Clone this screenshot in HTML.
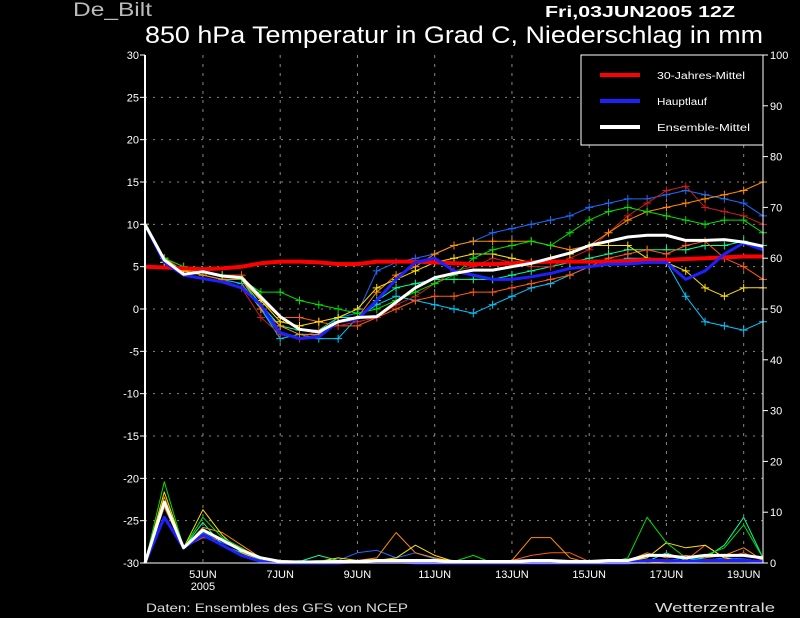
<!DOCTYPE html>
<html><head><meta charset="utf-8"><style>
html,body{margin:0;padding:0;background:#000;width:800px;height:618px;overflow:hidden}
svg{display:block}
text{font-family:"Liberation Sans",sans-serif}
</style></head><body>
<svg id="chart" width="800" height="618" xmlns="http://www.w3.org/2000/svg">
<rect x="0" y="0" width="800" height="618" fill="#000"/>
<text x="73" y="16" fill="#bbb" font-size="19" textLength="79" lengthAdjust="spacingAndGlyphs">De_Bilt</text>
<text x="545" y="17" fill="#fff" font-size="16" font-weight="bold" textLength="190" lengthAdjust="spacingAndGlyphs">Fri,03JUN2005  12Z</text>
<text x="145" y="43" fill="#fff" font-size="24" textLength="618" lengthAdjust="spacingAndGlyphs">850 hPa Temperatur in Grad C, Niederschlag in mm</text>
<text x="146" y="612" fill="#ddd" font-size="12" textLength="262" lengthAdjust="spacingAndGlyphs">Daten: Ensembles des GFS von NCEP</text>
<text x="655" y="612" fill="#ddd" font-size="13" textLength="120" lengthAdjust="spacingAndGlyphs">Wetterzentrale</text>
<g id="grid"></g><g id="precip"></g><g id="temp"></g><g id="axes"></g>
<g>
<rect x="581" y="55" width="182" height="90" fill="#000" stroke="#fff" stroke-width="1"/>
<line x1="600" y1="75" x2="640" y2="75" stroke="#f00" stroke-width="4"/>
<text x="657" y="79" fill="#fff" font-size="10" textLength="88" lengthAdjust="spacingAndGlyphs">30-Jahres-Mittel</text>
<line x1="600" y1="101" x2="640" y2="101" stroke="#2020ff" stroke-width="4"/>
<text x="657" y="105" fill="#fff" font-size="10" textLength="50" lengthAdjust="spacingAndGlyphs">Hauptlauf</text>
<line x1="600" y1="127" x2="640" y2="127" stroke="#fff" stroke-width="4"/>
<text x="657" y="131" fill="#fff" font-size="10" textLength="93" lengthAdjust="spacingAndGlyphs">Ensemble-Mittel</text>
</g>
</svg>
<script>
const dateLabels=["5JUN","7JUN","9JUN","11JUN","13JUN","15JUN","17JUN","19JUN"];
const leftTicks=[30,25,20,15,10,5,0,-5,-10,-15,-20,-25,-30];
const rightTicks=[100,90,80,70,60,50,40,30,20,10,0];
const climate=[5,4.9,4.8,4.7,4.8,5.0,5.4,5.6,5.6,5.5,5.3,5.3,5.6,5.6,5.6,5.5,5.4,5.3,5.3,5.4,5.5,5.6,5.6,5.6,5.6,5.7,5.8,5.8,5.9,6.0,6.1,6.2,6.2];
const ensMean=[10,5.8,4.1,4.4,3.9,3.7,1.4,-0.9,-2.4,-2.7,-1.5,-1.0,-0.9,0.8,2.5,3.7,4.2,4.6,4.6,5.0,5.4,6.0,6.6,7.5,8.0,8.5,8.7,8.7,8.1,8.1,8.2,7.9,7.4];
const mainRun=[10,5.5,4.0,3.6,3.2,2.5,0.5,-2.8,-3.5,-3.3,-1.5,-1.2,1.0,3.5,5.5,6.0,4.5,4.0,3.5,3.5,3.8,4.2,4.8,5.0,5.3,5.3,5.5,5.5,3.5,4.5,6.5,7.8,7.0];
const memBlue=[10,6,4.5,4,3.5,3,0,-3,-3.5,-3,-1,-0.5,4.5,5.5,6,6.5,7.5,8,9,9.5,10,10.5,11,12,12.5,13,13,13.5,14,13.5,13,12.5,11];
const memGreen=[10,6,5,4.5,4,3.5,2,2,1,0.5,0,-0.5,0,1,2,3,4,6,7,7.5,8,7.5,9,10.5,11.5,12,11.5,11,10.5,10,10.5,10.5,9];
const memCyan=[10,5.5,4.5,4,3.5,3,0,-3.5,-3,-3.5,-3.5,-1,0.5,1.5,1,0.5,0,-0.5,0.5,1.5,2.5,3,4,5,5.5,6,6,5.5,1.5,-1.5,-2,-2.5,-1.5];
const memOrange=[10,6,4.5,4,3.5,3.5,0,-2,-3,-3,-1.5,-1,2,4,5,6.5,7.5,8,8,8,8,7.5,7,7.5,9,10.5,11.5,12,12.5,13,13.5,14,15];
const memYellow=[10,5.5,4.5,4.5,4,3.5,1,-1.5,-2,-1.5,-1,0,2.5,3.5,4.5,5.5,6,6.5,6.5,6,5.5,6,6.5,7.5,7.5,7.5,6,5.5,4.5,2.5,1.5,2.5,2.5];
const memRed=[10,5.5,4.5,4,3.5,2.5,-1,-3,-3.5,-2.5,-2,-1.5,-1,0.5,1.5,3,4.5,5,6,5.5,5,5,6,7,9,11,12.5,14,14.5,12,11.5,11,10];
const memOrRed=[10,6,5,4.5,4,4,1,-1,-1,-1.5,-2,-2,-1,0,1,1.5,1.5,2,2,2.5,3,3.5,4,5,6,6.5,7,6.5,7.5,8,6,5,3.5];
const memTeal=[10,5.5,4.5,4,3.5,3.5,0.5,-2,-2.5,-2.5,-1,-1,1,2.5,3,3.5,3.5,3.5,3.5,4,4.5,5,5.5,6,6.5,7,7,7,7,7.5,7.5,8,7.5];
const prMean=[0,12,3,6.5,4.5,2.5,1,0.3,0.2,0.2,0.3,0.3,0.5,0.5,0.5,0.5,0.3,0.3,0.3,0.3,0.5,0.5,0.3,0.3,0.5,0.5,1.5,1.5,1,1.5,1.5,1.5,1];
const prMain=[0,9,3,5.5,3.5,1.5,0.3,0,0,0,0,0.3,0.3,0.3,0,0,0,0,0,0,0,0,0,0,0,0,0.5,0.5,0.3,0.5,0.5,0.5,0.3];
const prGreen=[0,16,3,9,5,3,0.5,0,0,0.5,0.3,0.3,0.3,0.3,0.5,0.5,0.3,1.5,0,0.3,0.5,0.5,0,0,0,1,9,4,1,1.5,3,7.5,1];
const prOrange=[0,13,3,7,6,3.5,1,0.5,0.3,0.5,0.5,0.5,1,6,2,1,0.3,0.3,0,0.5,5,5,1,0,0,0.5,2,1,1.5,1,1.5,3,0.5];
const prYellow=[0,14,3,10.5,5.5,2,0.5,0,0,0.3,1,0.5,0.5,1,3.5,1.5,0.3,0,0,0,0,0,0,0,0,0.3,1,4,3,3.5,1,0.3,0.3];
const prBlue=[0,12,3,6,4,2.5,0.5,0,0.5,0.3,0.5,2,2.5,1,2,0.8,0.3,0,0,0,0,0,0,0,0,0,0.3,0.5,1,0.5,1,0.8,0.3];
const prRed=[0,11,3,5,4.5,3,0.8,0.3,0.3,0.3,0.5,0.5,0.3,0.5,0.5,0.5,0.3,0.3,0.3,0.5,1.5,2,2,0.3,0,0,0,0.3,0.5,3.5,1,2,0.5];
const prTeal=[0,11,3,8,3.5,2,0.5,0.3,0.3,1.5,0.5,0.5,0.3,0.3,0.3,0.3,0.3,0.3,0,0,0,0,0,0,0,0,0.3,2,0.5,1,3.5,9,1];

const NS='http://www.w3.org/2000/svg';
const X0=145,X1=763,Y0=55,Y1=563,N=33;
function xAt(i){return X0+(X1-X0)*i/(N-1);}
function yT(t){return Y0+(30-t)*(Y1-Y0)/60;}
function yP(p){return Y1-p*(Y1-Y0)/100;}
function xDay(d){return X0+(X1-X0)*(d-3.5)/16;}
function mk(tag,attrs,parent){const e=document.createElementNS(NS,tag);for(const k in attrs)e.setAttribute(k,attrs[k]);parent.appendChild(e);return e;}
const grid=document.getElementById('grid'),axes=document.getElementById('axes'),tg=document.getElementById('temp'),pg=document.getElementById('precip');

leftTicks.forEach(t=>{
  const y=yT(t);
  if(t>-30&&t<30){const l=mk('line',{x1:X0,x2:X1,y1:y,y2:y,stroke:'#888','stroke-dasharray':'2,6','stroke-width':1},grid);
  
  }
  const tk=mk('line',{x1:X0-5,x2:X0,y1:y,y2:y,stroke:'#fff'},axes);
  
  
  const tx=mk('text',{x:X0-6,y:y+4,fill:'#fff','font-size':11,'text-anchor':'end'},axes);
  tx.textContent=t;
  
  
});
rightTicks.forEach(p=>{
  const y=yP(p);
  const tk=mk('line',{x1:X1,x2:X1+5,y1:y,y2:y,stroke:'#fff'},axes);
  
  
  const tx=mk('text',{x:X1+7,y:y+4,fill:'#fff','font-size':11},axes);
  tx.textContent=p;
  
  
});
dateLabels.forEach((d,k)=>{
  const x=xDay(5+2*k);
  const l=mk('line',{x1:x,x2:x,y1:Y0,y2:Y1,stroke:'#888','stroke-dasharray':'3,6','stroke-width':1},grid);
  
  
  const tx=mk('text',{x:x,y:578,fill:'#fff','font-size':11,'text-anchor':'middle'},axes);
  tx.textContent=d;
  
  
  if(k===0){const yr=mk('text',{x:x,y:590,fill:'#fff','font-size':11,'text-anchor':'middle'},axes);
  yr.textContent='2005';
  
  }
});
const la=mk('line',{x1:X0,x2:X0,y1:Y0,y2:Y1,stroke:'#fff','stroke-width':2},axes);


const ra=mk('line',{x1:X1,x2:X1,y1:Y0,y2:Y1,stroke:'#fff','stroke-width':1},axes);


const ba=mk('line',{x1:X0,x2:X1,y1:Y1,y2:Y1,stroke:'#fff','stroke-width':1},axes);



function pts(arr,f){return arr.map((v,i)=>xAt(i).toFixed(1)+','+f(v).toFixed(1)).join(' ');}
function series(g,arr,f,color,w,name,cross){
  const pl=mk('polyline',{points:pts(arr,f),fill:'none',stroke:color,'stroke-width':w,'stroke-linejoin':'round'},g);
  
  
  if(cross){arr.forEach((v,i)=>{const x=xAt(i),y=f(v);
    const c=mk('path',{d:`M${x-4},${y}H${x+4}M${x},${y-4}V${y+4}`,stroke:color,'stroke-width':1},g);
    
    });}
}
const prec=[[prBlue,'#1a6cff'],[prTeal,'#00ffa0'],[prRed,'#ff5a14'],[prOrange,'#ff8c00'],[prYellow,'#ffe000'],[prGreen,'#00e000']];
prec.forEach(([a,c],k)=>series(pg,a,yP,c,1,'precip-member-'+k,false));
series(pg,prMain,yP,'#2020ff',3,'precip-main-run',false);
series(pg,prMean,yP,'#fff',3,'precip-ensemble-mean',false);

const mem=[[memBlue,'#1a6cff'],[memCyan,'#00c8ff'],[memTeal,'#00ffa0'],[memOrRed,'#ff5a14'],[memRed,'#c81e1e'],[memOrange,'#ff8c00'],[memYellow,'#ffe000'],[memGreen,'#00e000']];
mem.forEach(([a,c],k)=>series(tg,a,yT,c,1,'temp-member-'+k,true));
series(tg,climate,yT,'#f00',4,'climate-mean-line',false);
series(tg,mainRun,yT,'#2020ff',3,'main-run-line',false);
series(tg,ensMean,yT,'#fff',3,'ensemble-mean-line',false);
</script>
</body></html>
